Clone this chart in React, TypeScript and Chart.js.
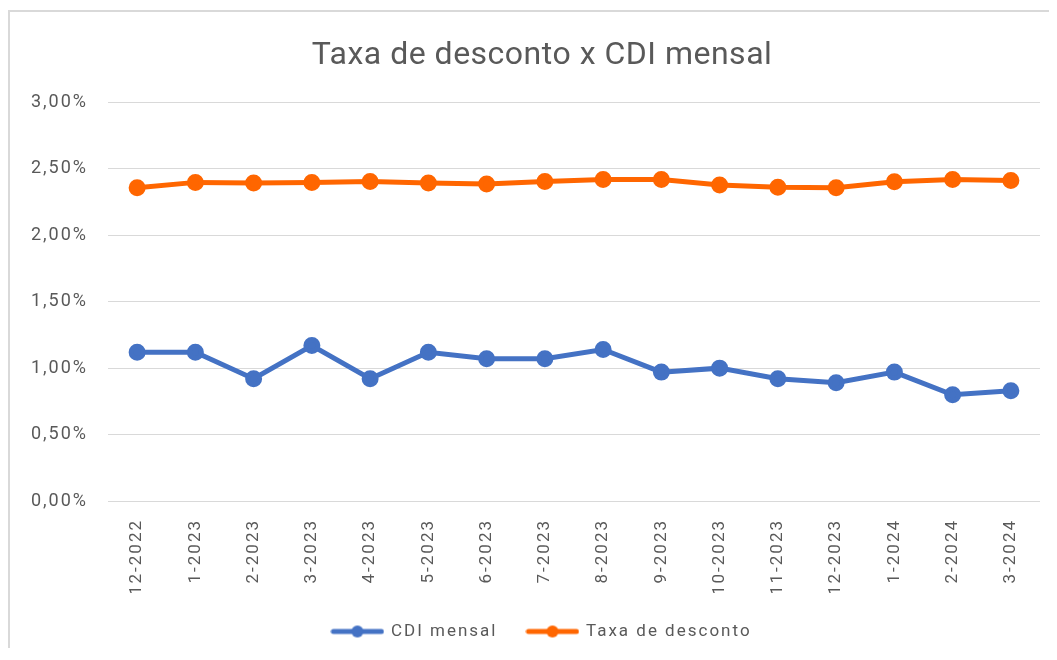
import React, { useEffect, useRef } from 'react';
import { Chart, registerables } from 'chart.js';

Chart.register(...registerables);

const categories = [
  '12-2022', '1-2023', '2-2023', '3-2023', '4-2023', '5-2023', '6-2023', '7-2023',
  '8-2023', '9-2023', '10-2023', '11-2023', '12-2023', '1-2024', '2-2024', '3-2024',
];
const cdiMensal = [1.12, 1.12, 0.92, 1.17, 0.92, 1.12, 1.07, 1.07, 1.14, 0.97, 1.0, 0.92, 0.89, 0.97, 0.8, 0.83];
const taxaDesconto = [2.357, 2.398, 2.393, 2.398, 2.405, 2.393, 2.385, 2.405, 2.42, 2.42, 2.378, 2.362, 2.357, 2.402, 2.42, 2.413];
const seriesNames = ['CDI mensal', 'Taxa de desconto'];
const seriesColors = ['#4472C4', '#FF6600'];
const yMin = 0;
const yMax = 3;
const yStep = 0.5;

const FONT = 'Roboto';
const TEXT = '#595959';
const SPACING = '2px';

function makeLegendIcon(color: string) {
  const c = document.createElement('canvas');
  c.width = 54;
  c.height = 14;
  const g = c.getContext('2d')!;
  g.strokeStyle = color;
  g.lineWidth = 5;
  g.lineCap = 'round';
  g.beginPath();
  g.moveTo(3, 7);
  g.lineTo(51, 7);
  g.stroke();
  g.fillStyle = color;
  g.beginPath();
  g.arc(27, 7, 6, 0, Math.PI * 2);
  g.fill();
  return c;
}

const spacingPlugin = {
  id: 'letterSpacing',
  beforeUpdate(chart: any) {
    chart.ctx.letterSpacing = SPACING;
  },
  beforeLayout(chart: any) {
    chart.ctx.letterSpacing = SPACING;
  },
  afterLayout(chart: any) {
    const y = chart.scales.y;
    if (y) y._computeLabelArea = () => undefined;
  },
  beforeDraw(chart: any) {
    chart.ctx.letterSpacing = SPACING;
  },
};

export default function App() {
  const ref = useRef<HTMLCanvasElement>(null);

  useEffect(() => {
    if (!ref.current) return;
    const icons = seriesColors.map(makeLegendIcon);
    const chart = new Chart(ref.current, {
      type: 'line',
      data: {
        labels: categories,
        datasets: [cdiMensal, taxaDesconto].map((d, i) => ({
          label: seriesNames[i],
          data: d,
          borderColor: seriesColors[i],
          backgroundColor: seriesColors[i],
          pointBackgroundColor: seriesColors[i],
          pointBorderColor: seriesColors[i],
          borderWidth: 5,
          pointRadius: 6,
          pointHoverRadius: 6,
          tension: 0,
          fill: false,
        })),
      },
      plugins: [spacingPlugin],
      options: {
        responsive: false,
        animation: false,
        layout: { padding: { left: 34, right: 17, top: 0, bottom: 0 } },
        plugins: {
          tooltip: { enabled: false },
          title: {
            display: true,
            text: 'Taxa de desconto x CDI mensal',
            color: TEXT,
            font: { family: FONT, size: 32, weight: 'normal' },
            padding: { top: 25, bottom: 27 },
          },
          legend: {
            position: 'bottom',
            labels: {
              usePointStyle: true,
              pointStyleWidth: 50,
              padding: 30,
              color: TEXT,
              font: { family: FONT, size: 17 },
              generateLabels: (c: any) =>
                (Chart.defaults.plugins.legend.labels.generateLabels as any)(c).map((l: any, i: number) => ({
                  ...l,
                  pointStyle: icons[i],
                })),
            },
          },
        },
        scales: {
          x: {
            offset: true,
            grid: { display: false, drawTicks: false },
            border: { display: false },
            ticks: {
              minRotation: 90,
              maxRotation: 90,
              padding: 18,
              autoSkip: false,
              color: TEXT,
              font: { family: FONT, size: 17 },
            },
            afterFit: (s: any) => {
              s.height = 92;
            },
          },
          y: {
            min: yMin,
            max: yMax,
            grid: { color: '#D9D9D9', lineWidth: 1, drawTicks: false },
            border: { display: false },
            ticks: {
              stepSize: yStep,
              padding: 20,
              color: TEXT,
              font: { family: FONT, size: 18 },
              callback: (v: any) => Number(v).toFixed(2).replace('.', ',') + '%',
            },
            afterFit: (s: any) => {
              s.width = 64;
            },
          },
        },
      },
    });
    const tb: any = (chart as any).titleBlock;
    if (tb) {
      const orig = tb.draw;
      tb.draw = function (...args: any[]) {
        const ctx = chart.ctx as any;
        const prev = ctx.letterSpacing;
        ctx.letterSpacing = '0.5px';
        orig.apply(this, args);
        ctx.letterSpacing = prev;
      };
    }
    chart.draw();
    return () => chart.destroy();
  }, []);

  return (
    <div
      style={{
        position: 'relative',
        top: 2,
        width: 1049,
        height: 640,
        boxSizing: 'border-box',
        borderTop: '2px solid #D9D9D9',
        borderLeft: '2px solid #D9D9D9',
        background: '#fff',
      }}
    >
      <canvas ref={ref} width={1047} height={638} style={{ display: 'block' }} />
    </div>
  );
}
